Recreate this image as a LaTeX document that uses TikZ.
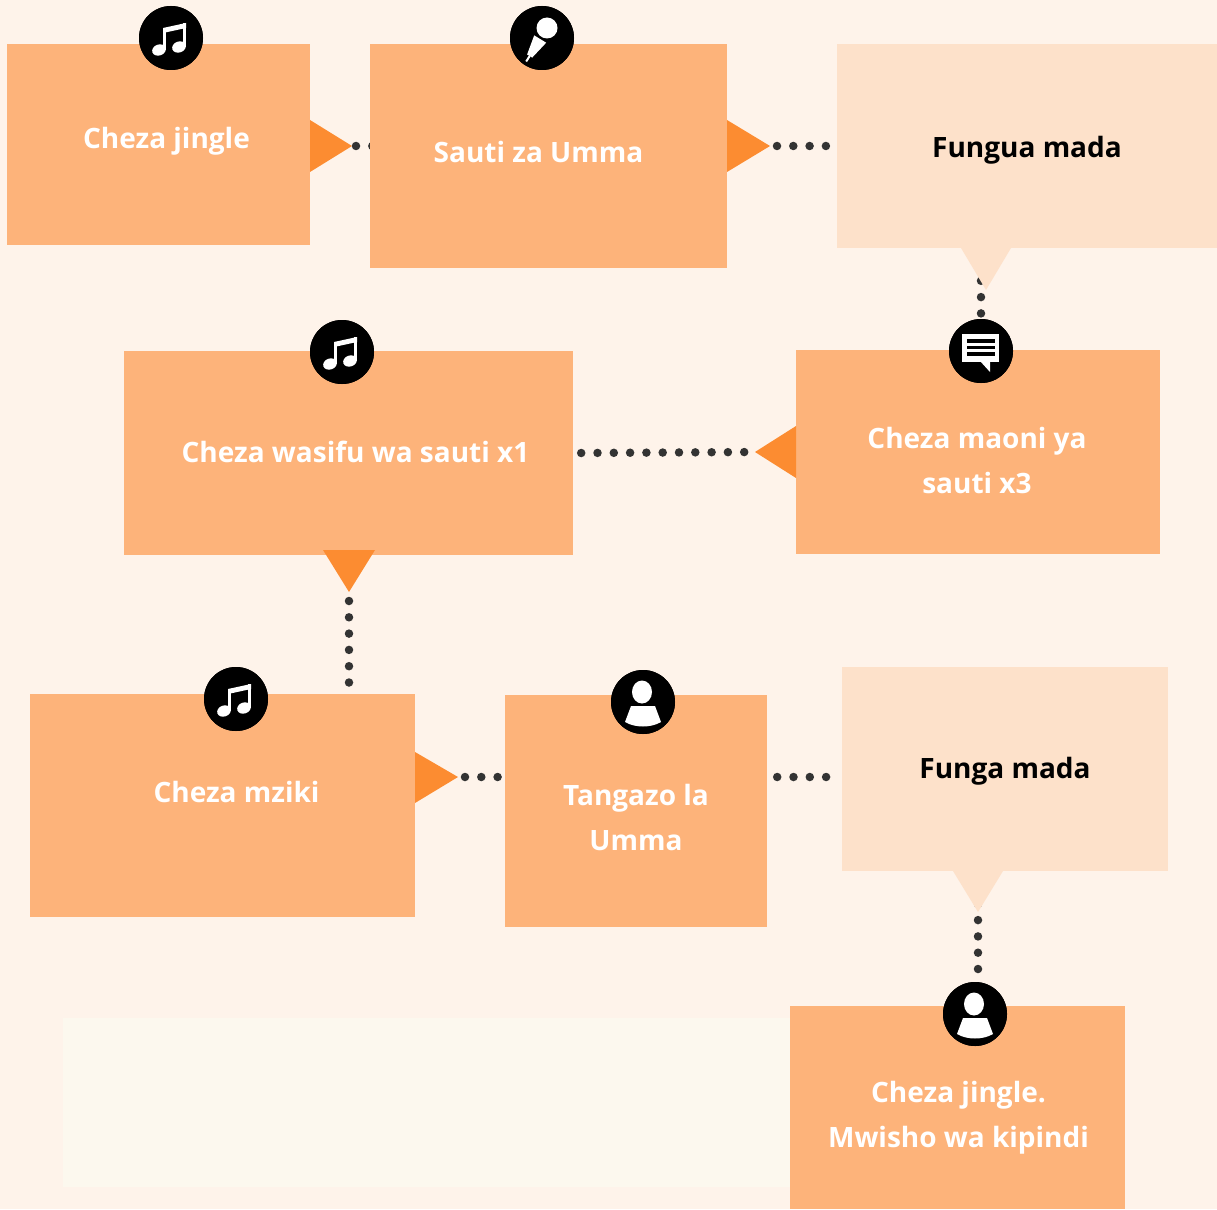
\documentclass[tikz,border=0pt]{standalone}
\usepackage{fontspec}
\setmainfont{Open Sans}
\usetikzlibrary{calc}

\definecolor{bgpeach}{HTML}{FEF3EA}
\definecolor{boxorange}{HTML}{FDB37A}
\definecolor{boxpale}{HTML}{FDE1CA}
\definecolor{triorange}{HTML}{FC8C31}
\definecolor{dotgray}{HTML}{333333}
\definecolor{faintbox}{HTML}{FCF8EE}

\pgfdeclarelayer{paper}
\pgfdeclarelayer{dotlayer}
\pgfsetlayers{paper,dotlayer,main}

\newcommand{\notesign}{%
	\fill[white, rotate around={20:(-12,12)}] (-12,12) ellipse (7 and 5.5);
	\fill[white, rotate around={20:(8,9)}] (8,9) ellipse (7 and 5.5);
	\fill[white] (-8,12) rectangle (-5,-10);
	\fill[white] (12,9) rectangle (15,-15);
	\fill[white] (-8,-10) -- (15,-15) -- (15,-10) -- (-8,-5) -- cycle;}
\newcommand{\micsign}{%
	\fill[white] (5,-10) circle (10.5);
	\fill[white] (4.2,4.7) -- (-7.8,-2.6) -- (-14.9,16.5) -- (-9.8,19.6) -- cycle;
	\draw[white, line width=2] (-12.3,18) -- (-15.8,23.5);}
\newcommand{\chatsign}{%
	\fill[white] (-19,-17) rectangle (18,11);
	\fill[white] (-1,10) -- (9,21) -- (9,10) -- cycle;
	\foreach \yy in {-10,-3.5,3} \fill[black] (-14,\yy-1.6) rectangle (14,\yy+1.6);}
\newcommand{\personsign}{%
	\fill[white] (-1,-10) ellipse (10 and 11.5);
	\fill[white] (-12,4) -- (12,4) -- (18,20) .. controls (8,26) and (-8,26) .. (-18,20) -- cycle;}

\begin{document}
\begin{tikzpicture}[x=1pt, y=-1pt,
		box/.style 2 args={rectangle, fill=boxorange, minimum width=#1, minimum height=#2, inner sep=0pt},
		palebox/.style 2 args={box={#1}{#2}, fill=boxpale},
		boxtext/.style={text=white, align=center, inner sep=0pt, font=\fontsize{28}{45}\selectfont\bfseries},
		paletext/.style={boxtext, text=black},
		icon/.style={circle, fill=black, minimum size=64, inner sep=0pt},
		dots/.style={dotgray, line width=8.5pt, line cap=round, dash pattern=on 0pt off 16.3pt},
		tri/.style={fill=triorange}]
			\begin{pgfonlayer}{paper}
			\fill[bgpeach] (0,0) rectangle (1217,1209);
			\fill[faintbox] (63,1018) rectangle (791,1187);
			\end{pgfonlayer}
			\useasboundingbox (0,0) rectangle (1217,1209);
			
			\node[box={303}{201}] (b1) at (158.5,144.5) {};
			\node[box={357}{224}] (b2) at (548.5,156) {};
			\node[palebox={380}{204}] (b3) at (1027,146) {};
			\node[box={364}{204}] (b4) at (978,452) {};
			\node[box={449}{204}] (b5) at (348.5,453) {};
			\node[box={385}{223}] (b6) at (222.5,805.5) {};
			\node[box={262}{232}] (b7) at (636,811) {};
			\node[palebox={326}{204}] (b8) at (1005,769) {};
			\node[box={335}{203}] (b9) at (957.5,1107.5) {};
			
			\node[boxtext] (l1) at ($(b1)+(8,-3)$) {Cheza jingle};
			\node[boxtext] (l2) at ($(b2)+(-10,-4)$) {Sauti za Umma};
			\node[paletext] (l3) at ($(b3)+(0,4)$) {Fungua mada};
			\node[boxtext] (l4) at ($(b4)+(-1,8)$) {Cheza maoni ya\\sauti x3};
			\node[boxtext] (l5) at ($(b5)+(7,-1)$) {Cheza wasifu wa sauti x1};
			\node[boxtext] (l6) at ($(b6)+(14,-14)$) {Cheza mziki};
			\node[boxtext] (l7) at ($(b7)+(0,6)$) {Tangazo la\\Umma};
			\node[paletext] (l8) at ($(b8)+(0,2)$) {Funga mada};
			\node[boxtext] (l9) at ($(b9)+(1,10)$) {Cheza jingle.\\Mwisho wa kipindi};
			
			\coordinate (t1) at (352,146);
			\coordinate (t2) at (770,146);
			\coordinate (t4) at (755,452);
			\coordinate (t5) at (349,592);
			\coordinate (t6) at (458,777);
			\coordinate (q3) at (986,290);
			\coordinate (q8) at (978,912);
			
			\node[icon] (i1) at (171,38) {};
			\node[icon] (i2) at (542,38) {};
			\node[icon] (i4) at (981,351) {};
			\node[icon] (i5) at (342,352) {};
			\node[icon] (i6) at (236,699) {};
			\node[icon] (i7) at (643,702) {};
			\node[icon] (i9) at (975,1014) {};
			
			\begin{pgfonlayer}{dotlayer}
			\draw[dots] ($(t1)+(4,0)$) -- ($(b2.west |- t1)+(8,0)$);
			\draw[dots] ($(t2)+(7,0)$) -- (b3.west |- t2);
			\draw[dots] (i4 |- b3.south) -- (i4.north);
			\draw[dots] ($(b5.east)+(8,0)$) -- (t4);
			\draw[dots] ($(t5)+(0,9)$) -- (t5 |- b6.north);
			\draw[dots] ($(t6)+(7,0)$) -- (b7.west |- t6);
			\draw[dots] ($(b7.east |- t6)+(10,0)$) -- (b8.west |- t6);
			\draw[dots] (q8 |- b8.south) -- (q8 |- i9.north);
			\end{pgfonlayer}
			
			\fill[tri] (t1) -- ++(-42,-26) -- ++(0,52) -- cycle;
			\fill[tri] (t2) -- ++(-43,-26) -- ++(0,52) -- cycle;
			\fill[tri] (t4) -- ++(41,-26) -- ++(0,52) -- cycle;
			\fill[tri] (t5) -- ++(-26,-42) -- ++(52,0) -- cycle;
			\fill[tri] (t6) -- ++(-43,-25) -- ++(0,51) -- cycle;
			\fill[boxpale] (q3) -- ++(-25,-42) -- ++(50,0) -- cycle;
			\fill[boxpale] (q8) -- ++(-25,-41) -- ++(50,0) -- cycle;
			
			\node[icon] at (i1) {};
			\node[icon] at (i2) {};
			\node[icon] at (i4) {};
			\node[icon] at (i5) {};
			\node[icon] at (i6) {};
			\node[icon] at (i7) {};
			\node[icon] at (i9) {};
			\begin{scope}[shift={(i1.center)}] \notesign \end{scope}
			\begin{scope}[shift={(i5.center)}] \notesign \end{scope}
			\begin{scope}[shift={(i6.center)}] \notesign \end{scope}
			\begin{scope}[shift={(i2.center)}] \micsign \end{scope}
			\begin{scope}[shift={(i4.center)}] \chatsign \end{scope}
			\begin{scope}[shift={(i7.center)}] \personsign \end{scope}
			\begin{scope}[shift={(i9.center)}] \personsign \end{scope}
\end{tikzpicture}
\end{document}
